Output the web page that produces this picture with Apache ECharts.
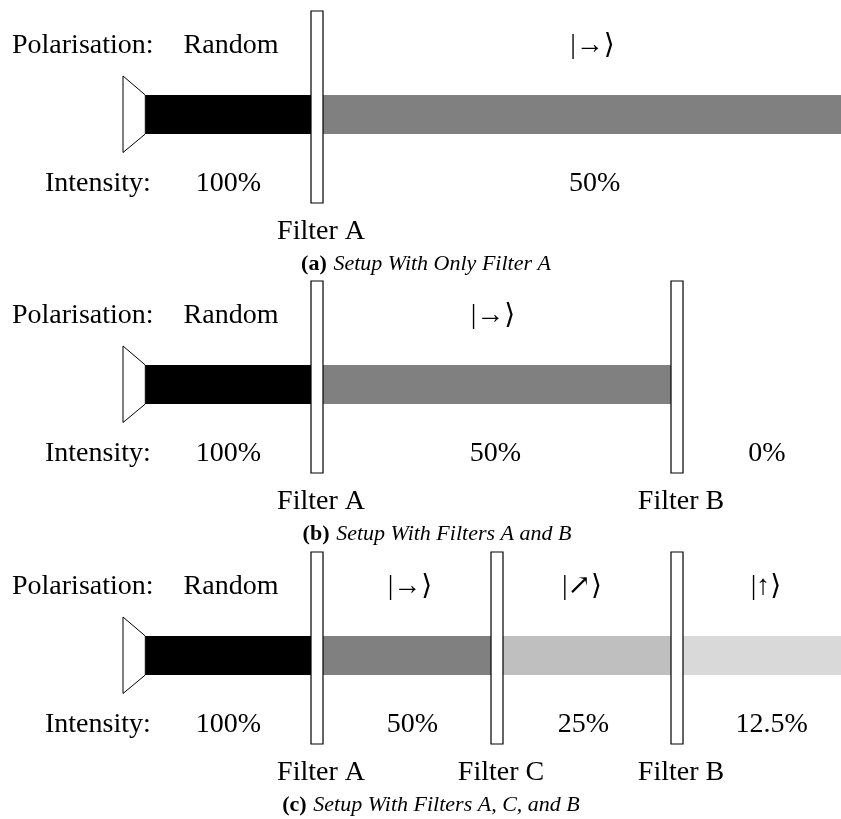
<!DOCTYPE html>
<html>
<head>
<meta charset="utf-8">
<script src="https://cdn.jsdelivr.net/npm/echarts@6/dist/echarts.min.js"></script>
<style>
html,body{margin:0;padding:0;background:#fff;}
#chart{width:841px;height:819px;}
</style>
</head>
<body>
<div id="chart"></div>
<script>
// ---- data ----
const captionTags = ['(a)', '(b)', '(c)'];
const captions = ['Setup With Only Filter A', 'Setup With Filters A and B', 'Setup With Filters A, C, and B'];
const filterNames = [['A'], ['A', 'B'], ['A', 'C', 'B']];
const filterPositions = [[317], [317, 677], [317, 497, 677]];
const intensities = [[100, 50], [100, 50, 0], [100, 50, 25, 12.5]];
const polarisations = [['Random', '|→⟩'], ['Random', '|→⟩'], ['Random', '|→⟩', '|↗⟩', '|↑⟩']];
const rowLabels = ['Polarisation:', 'Intensity:'];

// ---- layout / style ----
const panelOffsets = [0, 270, 541];
const beamStart = 145.3, beamEnd = 841, beamTop = 95, beamBottom = 134;
const filterTop = 11, filterBottom = 203, filterHalf = 6;
const sourcePoly = [[123, 76], [145.3, 95], [145.3, 134], [123, 152.5]];
const polX = [[231, 592.5], [231, 493, 767], [231, 410, 582, 766]];
const intX = [[228.5, 594.7], [228.5, 495.3, 767], [228.5, 412.5, 583.3, 771.7]];
const captionX = [426, 437, 431];
const rowY = {pol: 45.5, int: 183.5, filter: 232, caption: 264};
const beamColors = {100: '#000000', 50: '#808080', 25: '#bfbfbf', 12.5: '#d9d9d9'};
const FONT = "'Liberation Serif', 'DejaVu Serif', serif";
const FS = 28;
const CAP_FS = 22;

// ---- build series data ----
const beamData = [], filterData = [], sourceData = [], textData = [];
panelOffsets.forEach((oy, p) => {
  const f = filterPositions[p];
  intensities[p].forEach((I, i) => {
    const x0 = i === 0 ? beamStart : f[i - 1];
    const x1 = i < f.length ? f[i] : beamEnd;
    if (I > 0) beamData.push([x0, x1, oy, I]);
    textData.push({value: [intX[p][i], oy + rowY.int], text: I + '%', kind: 'n'});
    textData.push({value: [polX[p][i], oy + rowY.pol], text: polarisations[p][i], kind: 'n'});
  });
  f.forEach((x, j) => {
    filterData.push([x, oy]);
    textData.push({value: [x + 4, oy + rowY.filter], text: 'Filter ' + filterNames[p][j], kind: 'n'});
  });
  sourceData.push([0, oy]);
  textData.push({value: [12, oy + rowY.pol], text: rowLabels[0], kind: 'left'});
  textData.push({value: [45, oy + rowY.int], text: rowLabels[1], kind: 'left'});
  textData.push({value: [captionX[p], oy + rowY.caption], text: '{b|' + captionTags[p] + '}  {i|' + captions[p] + '}', kind: 'cap'});
});

const chart = echarts.init(document.getElementById('chart'), null, {renderer: 'canvas'});
chart.setOption({
  backgroundColor: '#ffffff',
  animation: false,
  grid: {left: 0, right: 0, top: 0, bottom: 0},
  xAxis: {type: 'value', min: 0, max: 841, show: false},
  yAxis: {type: 'value', min: 0, max: 819, inverse: true, show: false},
  series: [
    {
      type: 'custom', name: 'beams', clip: false, silent: true,
      data: beamData,
      renderItem: function (params, api) {
        const oy = api.value(2);
        const p0 = api.coord([api.value(0), oy + beamTop]);
        const p1 = api.coord([api.value(1), oy + beamBottom]);
        return {type: 'rect', shape: {x: p0[0], y: p0[1], width: p1[0] - p0[0], height: p1[1] - p0[1]},
          style: {fill: beamColors[api.value(3)]}};
      }
    },
    {
      type: 'custom', name: 'sources', clip: false, silent: true,
      data: sourceData,
      renderItem: function (params, api) {
        const oy = api.value(1);
        const pts = sourcePoly.map(q => api.coord([q[0], q[1] + oy]));
        return {type: 'polygon', shape: {points: pts}, style: {fill: '#fff', stroke: '#000', lineWidth: 1}};
      }
    },
    {
      type: 'custom', name: 'filters', clip: false, silent: true,
      data: filterData,
      renderItem: function (params, api) {
        const x = api.value(0), oy = api.value(1);
        const p0 = api.coord([x - filterHalf, oy + filterTop]);
        const p1 = api.coord([x + filterHalf, oy + filterBottom]);
        return {type: 'rect', shape: {x: p0[0], y: p0[1], width: p1[0] - p0[0], height: p1[1] - p0[1]},
          style: {fill: '#fff', stroke: '#000', lineWidth: 1.2}};
      }
    },
    {
      type: 'custom', name: 'labels', clip: false, silent: true,
      data: textData,
      renderItem: function (params, api) {
        const d = textData[params.dataIndex];
        const pt = api.coord([api.value(0), api.value(1)]);
        if (d.kind === 'cap') {
          return {type: 'text', x: pt[0], y: pt[1], style: {
            text: d.text, align: 'center', verticalAlign: 'middle', fill: '#000',
            rich: {
              b: {fontFamily: FONT, fontSize: CAP_FS, fontWeight: 'bold', fill: '#000'},
              i: {fontFamily: FONT, fontSize: CAP_FS, fontStyle: 'italic', fill: '#000'}
            }
          }};
        }
        return {type: 'text', x: pt[0], y: pt[1], style: {
          text: d.text, fontFamily: FONT, fontSize: FS, fill: '#000',
          align: d.kind === 'left' ? 'left' : 'center', verticalAlign: 'middle'
        }};
      }
    }
  ]
});
</script>
</body>
</html>
